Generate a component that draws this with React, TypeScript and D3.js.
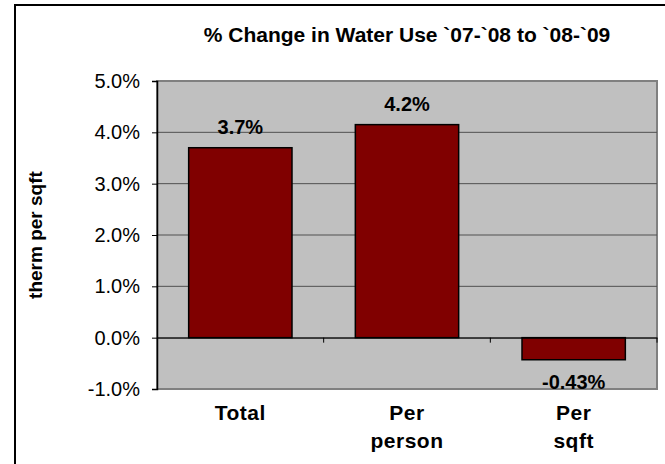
import { useEffect, useRef } from 'react'
import * as d3 from 'd3'

const categories = ['Total', 'Per person', 'Per sqft']
const categoryLines = [['Total'], ['Per', 'person'], ['Per', 'sqft']]
const values = [3.7, 4.15, -0.43]
const valueLabels = ['3.7%', '4.2%', '-0.43%']
const yTicks = [-1, 0, 1, 2, 3, 4, 5]
const yTickLabels = ['-1.0%', '0.0%', '1.0%', '2.0%', '3.0%', '4.0%', '5.0%']
const title = '% Change in Water Use `07-`08 to `08-`09'
const yTitle = 'therm per sqft'

const W = 665
const H = 464

const App = () => {
  const svgRef = useRef<SVGSVGElement | null>(null)

  useEffect(() => {
    const left = 157
    const right = 657
    const top = 81
    const bottom = 389
    const font = 'Liberation Sans, Arial, sans-serif'

    const x = d3.scaleBand().domain(categories).range([left, right]).paddingInner(0.38).paddingOuter(0.19)
    const xCat = d3.scaleBand().domain(categories).range([left, right])
    const y = d3.scaleLinear().domain([-1, 5]).range([bottom, top])

    const svg = d3.select(svgRef.current)
    svg.selectAll('*').remove()

    // outer chart frame
    svg
      .append('rect')
      .attr('x', 15)
      .attr('y', 5)
      .attr('width', W + 20)
      .attr('height', H + 20)
      .attr('fill', '#fff')
      .attr('stroke', '#000')
      .attr('stroke-width', 2)

    // plot area
    svg
      .append('rect')
      .attr('x', left)
      .attr('y', top)
      .attr('width', right - left)
      .attr('height', bottom - top)
      .attr('fill', '#C0C0C0')
      .attr('stroke', '#808080')
      .attr('stroke-width', 2)

    // gridlines + y axis
    const yAxis = d3
      .axisLeft(y)
      .tickValues(yTicks)
      .tickFormat((d, i) => yTickLabels[i])
      .tickSize(5)
      .tickPadding(12)
    svg
      .append('g')
      .selectAll('line')
      .data(yTicks.filter((t) => t !== 5 && t !== -1))
      .join('line')
      .attr('x1', left)
      .attr('x2', right)
      .attr('y1', (d) => y(d))
      .attr('y2', (d) => y(d))
      .attr('stroke', '#505050')
      .attr('stroke-width', 1)
    svg
      .append('g')
      .attr('transform', `translate(${left},0)`)
      .call(yAxis)
      .call((g) => g.select('.domain').attr('stroke', '#000').attr('stroke-width', 1.5))
      .call((g) => g.selectAll('.tick line').attr('stroke', '#000'))
      .call((g) =>
        g
          .selectAll('.tick text')
          .attr('fill', '#000')
          .style('font-family', font)
          .style('font-size', '20px')
      )

    // bars
    svg
      .append('g')
      .selectAll('rect')
      .data(values)
      .join('rect')
      .attr('x', (d, i) => x(categories[i]) as number)
      .attr('width', x.bandwidth())
      .attr('y', (d) => y(Math.max(0, d)))
      .attr('height', (d) => Math.abs(y(d) - y(0)))
      .attr('fill', '#800000')
      .attr('stroke', '#000')
      .attr('stroke-width', 1.5)

    // category axis at zero
    const xAxis = d3.axisBottom(xCat).tickSize(0).tickFormat(() => '')
    svg
      .append('g')
      .attr('transform', `translate(0,${y(0)})`)
      .call(xAxis)
      .call((g) => g.select('.domain').attr('stroke', '#000').attr('stroke-width', 1))
    svg
      .append('g')
      .selectAll('line')
      .data(categories)
      .join('line')
      .attr('x1', (d) => (xCat(d) as number) + xCat.bandwidth())
      .attr('x2', (d) => (xCat(d) as number) + xCat.bandwidth())
      .attr('y1', y(0))
      .attr('y2', y(0) + 5)
      .attr('stroke', '#000')

    // value labels
    svg
      .append('g')
      .selectAll('text')
      .data(values)
      .join('text')
      .attr('x', (d, i) => (x(categories[i]) as number) + x.bandwidth() / 2)
      .attr('y', (d) => (d >= 0 ? y(d) - 14 : y(d) + 29))
      .attr('text-anchor', 'middle')
      .style('font-family', font)
      .style('font-weight', 'bold')
      .style('font-size', '20px')
      .text((d, i) => valueLabels[i])

    // category labels
    const cat = svg
      .append('g')
      .selectAll('text')
      .data(categoryLines)
      .join('text')
      .attr('x', (d, i) => (xCat(categories[i]) as number) + xCat.bandwidth() / 2)
      .attr('y', 420)
      .attr('text-anchor', 'middle')
      .style('font-family', font)
      .style('font-weight', 'bold')
      .style('font-size', '21px')
      .style('letter-spacing', '0.5px')
    cat
      .selectAll('tspan')
      .data((d) => d)
      .join('tspan')
      .attr('x', function () {
        return (this.parentNode as SVGTextElement).getAttribute('x')
      })
      .attr('dy', (d, i) => (i === 0 ? 0 : 28))
      .text((d) => d)

    // title
    svg
      .append('text')
      .attr('x', (left + right) / 2)
      .attr('y', 42)
      .attr('text-anchor', 'middle')
      .style('font-family', font)
      .style('font-weight', 'bold')
      .style('font-size', '21px')
      .text(title)

    // y axis title
    svg
      .append('text')
      .attr('transform', `translate(42,${(top + bottom) / 2}) rotate(-90)`)
      .attr('text-anchor', 'middle')
      .style('font-family', font)
      .style('font-weight', 'bold')
      .style('font-size', '19px')
      .text(yTitle)
  }, [])

  return (
    <div style={{ position: 'fixed', left: 0, top: 0, width: W, height: H, overflow: 'hidden', background: '#fff' }}>
      <svg ref={svgRef} width={W} height={H} style={{ display: 'block' }} />
    </div>
  )
}

export default App
